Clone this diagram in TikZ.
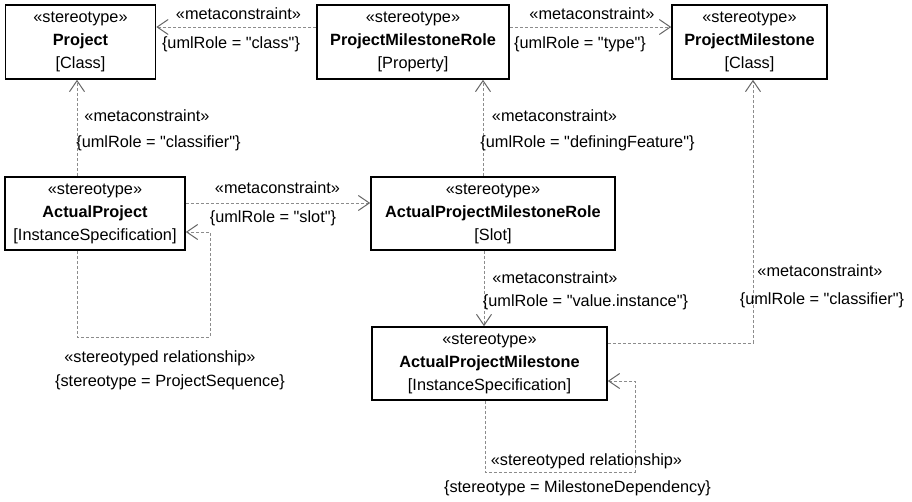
\documentclass[tikz,border=0pt]{standalone}
\usepackage{fontspec}
\setmainfont{Liberation Sans}
\newfontfamily\plainqfont{Liberation Sans}
\usetikzlibrary{arrows.meta}
\newcommand{\dq}{{\plainqfont\symbol{34}}}
\begin{document}
\begin{tikzpicture}[x=1pt,y=-1pt,
  every node/.style={font=\fontsize{16.3}{23}\selectfont},
  box/.style={draw=black,line width=1.6pt,fill=white,align=center,inner sep=0pt},
  conn/.style={draw=black!45,line width=1pt,dash pattern=on 3pt off 2pt,
    -{Straight Barb[length=11pt,width=15pt,line width=1pt,color=black!60]}},
  lbl/.style={inner sep=0pt,anchor=center}]
\useasboundingbox (0,0) rectangle (912,501);
% boxes
\node[box,minimum width=150pt,minimum height=74pt] (proj) at (80.5,42)
  {«stereotype»\\\textbf{Project}\\{}[Class]};
\node[box,minimum width=192pt,minimum height=74pt] (pmr) at (413,42)
  {«stereotype»\\\textbf{ProjectMilestoneRole}\\{}[Property]};
\node[box,minimum width=155pt,minimum height=74pt] (pm) at (749.5,42)
  {«stereotype»\\\textbf{ProjectMilestone}\\{}[Class]};
\node[box,minimum width=180pt,minimum height=73pt] (ap) at (95,213.5)
  {«stereotype»\\\textbf{ActualProject}\\{}[InstanceSpecification]};
\node[box,minimum width=244pt,minimum height=73pt] (apmr) at (493,213.5)
  {«stereotype»\\\textbf{ActualProjectMilestoneRole}\\{}[Slot]};
\node[box,minimum width=235pt,minimum height=73pt] (apm) at (489.5,363.5)
  {«stereotype»\\\textbf{ActualProjectMilestone}\\{}[InstanceSpecification]};
% connectors
\draw[conn] (pmr.west |- 0,27) -- (proj.east |- 0,27);
\draw[conn] (pmr.east |- 0,27) -- (pm.west |- 0,27);
\draw[conn] (ap.north -| 77,0) -- (proj.south -| 77,0);
\draw[conn] (ap.east |- 0,203) -- (apmr.west |- 0,203);
\draw[conn] (apmr.north -| 483,0) -- (pmr.south -| 483,0);
\draw[conn] (apmr.south -| 484,0) -- (apm.north -| 484,0);
\draw[conn] (apm.east |- 0,343) -| (pm.south -| 753,0);
\coordinate (aploop) at (210,337);
\coordinate (apmloop) at (635,472);
\draw[conn] (ap.south -| 77,0) |- (aploop) |- (ap.east |- 0,232);
\draw[conn] (apm.south -| 485,0) |- (apmloop) |- (apm.east |- 0,381);
% labels
\node[lbl] (l1a) at (238.5,14) {«metaconstraint»};
\node[lbl] (l1b) at (231,44) {\{umlRole = \dq class\dq\}};
\node[lbl] (l2a) at (592,14) {«metaconstraint»};
\node[lbl] (l2b) at (580,44) {\{umlRole = \dq type\dq\}};
\node[lbl] (l3a) at (147,116) {«metaconstraint»};
\node[lbl] (l3b) at (158.5,143) {\{umlRole = \dq classifier\dq\}};
\node[lbl] (l4a) at (554.5,116) {«metaconstraint»};
\node[lbl] (l4b) at (587.5,143) {\{umlRole = \dq definingFeature\dq\}};
\node[lbl] (l5a) at (277.5,188) {«metaconstraint»};
\node[lbl] (l5b) at (273,218) {\{umlRole = \dq slot\dq\}};
\node[lbl] (l6a) at (555,278) {«metaconstraint»};
\node[lbl] (l6b) at (585.5,302) {\{umlRole = \dq value.instance\dq\}};
\node[lbl] (l7a) at (820,271) {«metaconstraint»};
\node[lbl] (l7b) at (822,300) {\{umlRole = \dq classifier\dq\}};
\node[lbl] (l8a) at (160,358) {«stereotyped relationship»};
\node[lbl] (l8b) at (170,382) {\{stereotype = ProjectSequence\}};
\node[lbl] (l9a) at (586.5,461) {«stereotyped relationship»};
\node[lbl] (l9b) at (577.5,488) {\{stereotype = MilestoneDependency\}};
\end{tikzpicture}
\end{document}
